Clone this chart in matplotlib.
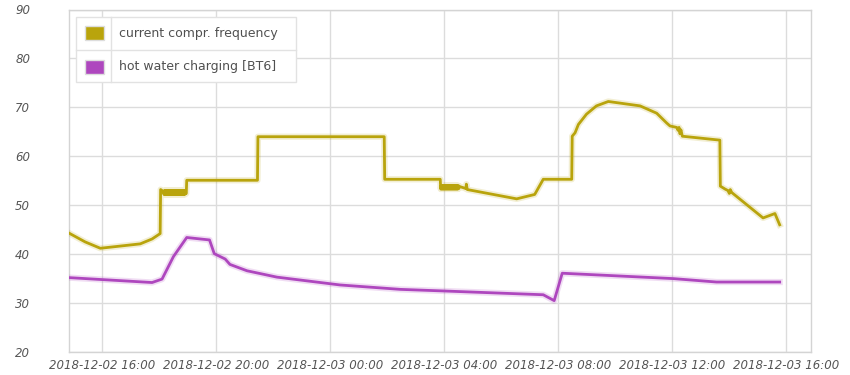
import pandas as pd
import matplotlib
matplotlib.use("Agg")
import matplotlib.pyplot as plt
import matplotlib.dates as mdates
import matplotlib.patheffects as pe
from matplotlib.patches import Rectangle
from matplotlib.lines import Line2D

# ── Data ───────────────────────────────────────────────────────────────────
# compressor frequency, split into pieces; the two "bands" are the fast
# on/off flicker the logger recorded around 18:10-18:56 and 03:54-04:34
COMPR_A_TIMES = [
    "2018-12-02 14:50", "2018-12-02 15:24", "2018-12-02 15:56", "2018-12-02 17:20",
    "2018-12-02 17:45", "2018-12-02 18:02", "2018-12-02 18:03", "2018-12-02 18:09",
]
COMPR_A_VALUES = [44.3, 42.5, 41.2, 42.1, 43.1, 44.2, 53.2, 52.8]

BAND1_TIMES = [
    "2018-12-02 18:10", "2018-12-02 18:11", "2018-12-02 18:12", "2018-12-02 18:13",
    "2018-12-02 18:14", "2018-12-02 18:15", "2018-12-02 18:16", "2018-12-02 18:17",
    "2018-12-02 18:18", "2018-12-02 18:19", "2018-12-02 18:20", "2018-12-02 18:21",
    "2018-12-02 18:22", "2018-12-02 18:23", "2018-12-02 18:24", "2018-12-02 18:25",
    "2018-12-02 18:26", "2018-12-02 18:27", "2018-12-02 18:28", "2018-12-02 18:29",
    "2018-12-02 18:30", "2018-12-02 18:31", "2018-12-02 18:32", "2018-12-02 18:33",
    "2018-12-02 18:34", "2018-12-02 18:35", "2018-12-02 18:36", "2018-12-02 18:37",
    "2018-12-02 18:38", "2018-12-02 18:39", "2018-12-02 18:40", "2018-12-02 18:41",
    "2018-12-02 18:42", "2018-12-02 18:43", "2018-12-02 18:44", "2018-12-02 18:45",
    "2018-12-02 18:46", "2018-12-02 18:47", "2018-12-02 18:48", "2018-12-02 18:49",
    "2018-12-02 18:50", "2018-12-02 18:51", "2018-12-02 18:52", "2018-12-02 18:53",
    "2018-12-02 18:54", "2018-12-02 18:55", "2018-12-02 18:56",
]
BAND1_VALUES = [
    52.2, 53.0, 52.2, 53.0, 52.2, 53.0, 52.2, 53.0,
    52.2, 53.0, 52.2, 53.0, 52.2, 53.0, 52.2, 53.0,
    52.2, 53.0, 52.2, 53.0, 52.2, 53.0, 52.2, 53.0,
    52.2, 53.0, 52.2, 53.0, 52.2, 53.0, 52.2, 53.0,
    52.2, 53.0, 52.2, 53.0, 52.2, 53.0, 52.2, 53.0,
    52.2, 53.0, 52.2, 53.0, 52.2, 53.0, 52.4,
]

COMPR_B_TIMES = [
    "2018-12-02 18:57", "2018-12-02 18:58", "2018-12-02 21:27", "2018-12-02 21:28",
    "2018-12-03 01:54", "2018-12-03 01:55", "2018-12-03 03:52", "2018-12-03 03:53",
]
COMPR_B_VALUES = [52.4, 55.1, 55.1, 64.0, 64.0, 55.3, 55.3, 53.3]

BAND2_TIMES = [
    "2018-12-03 03:54", "2018-12-03 03:55", "2018-12-03 03:56", "2018-12-03 03:57",
    "2018-12-03 03:58", "2018-12-03 03:59", "2018-12-03 04:00", "2018-12-03 04:01",
    "2018-12-03 04:02", "2018-12-03 04:03", "2018-12-03 04:04", "2018-12-03 04:05",
    "2018-12-03 04:06", "2018-12-03 04:07", "2018-12-03 04:08", "2018-12-03 04:09",
    "2018-12-03 04:10", "2018-12-03 04:11", "2018-12-03 04:12", "2018-12-03 04:13",
    "2018-12-03 04:14", "2018-12-03 04:15", "2018-12-03 04:16", "2018-12-03 04:17",
    "2018-12-03 04:18", "2018-12-03 04:19", "2018-12-03 04:20", "2018-12-03 04:21",
    "2018-12-03 04:22", "2018-12-03 04:23", "2018-12-03 04:24", "2018-12-03 04:25",
    "2018-12-03 04:26", "2018-12-03 04:27", "2018-12-03 04:28", "2018-12-03 04:29",
    "2018-12-03 04:30", "2018-12-03 04:31", "2018-12-03 04:32", "2018-12-03 04:33",
]
BAND2_VALUES = [
    54.0, 53.3, 54.0, 53.3, 54.0, 53.3, 54.0, 53.3,
    54.0, 53.3, 54.0, 53.3, 54.0, 53.3, 54.0, 53.3,
    54.0, 53.3, 54.0, 53.3, 54.0, 53.3, 54.0, 53.3,
    54.0, 53.3, 54.0, 53.3, 54.0, 53.3, 54.0, 53.3,
    54.0, 53.3, 54.0, 53.3, 54.0, 53.4, 53.9, 53.8,
]

COMPR_C_TIMES = [
    "2018-12-03 04:40", "2018-12-03 04:46", "2018-12-03 04:47", "2018-12-03 04:49",
    "2018-12-03 06:33", "2018-12-03 07:11", "2018-12-03 07:29", "2018-12-03 08:29",
    "2018-12-03 08:30", "2018-12-03 08:36", "2018-12-03 08:43", "2018-12-03 09:00",
    "2018-12-03 09:21", "2018-12-03 09:46", "2018-12-03 10:53", "2018-12-03 11:28",
    "2018-12-03 11:49", "2018-12-03 11:56", "2018-12-03 12:10", "2018-12-03 12:13",
    "2018-12-03 12:15", "2018-12-03 12:17", "2018-12-03 12:19", "2018-12-03 12:21",
    "2018-12-03 12:22", "2018-12-03 13:41", "2018-12-03 13:42", "2018-12-03 13:52",
    "2018-12-03 13:58", "2018-12-03 14:01", "2018-12-03 14:03", "2018-12-03 14:06",
    "2018-12-03 15:12", "2018-12-03 15:37", "2018-12-03 15:47",
]
COMPR_C_VALUES = [
    53.6, 53.4, 54.3, 53.2,
    51.3, 52.2, 55.3, 55.3,
    64.1, 64.8, 66.5, 68.6,
    70.3, 71.2, 70.3, 68.8,
    66.8, 66.2, 65.9, 65.3,
    65.9, 64.6, 65.4, 64.5,
    64.1, 63.3, 53.9, 53.3,
    53.0, 52.4, 53.2, 52.6,
    47.4, 48.3, 46.0,
]

HW_TIMES = [
    "2018-12-02 14:50", "2018-12-02 17:45", "2018-12-02 18:06", "2018-12-02 18:30",
    "2018-12-02 18:58", "2018-12-02 19:46", "2018-12-02 19:56", "2018-12-02 20:19",
    "2018-12-02 20:29", "2018-12-02 21:05", "2018-12-02 22:08", "2018-12-03 00:21",
    "2018-12-03 02:28", "2018-12-03 03:52", "2018-12-03 07:29", "2018-12-03 07:52",
    "2018-12-03 08:09", "2018-12-03 12:03", "2018-12-03 13:34", "2018-12-03 15:47",
]
HW_VALUES = [
    35.2, 34.2, 34.9, 39.5,
    43.4, 42.9, 40.1, 39.0,
    37.9, 36.6, 35.3, 33.7,
    32.8, 32.5, 31.7, 30.5,
    36.1, 35.0, 34.3, 34.3,
]

SERIES_LABELS = ["current compr. frequency", "hot water charging [BT6]"]
SERIES_COLORS = ["#b9a40c", "#ae47be"]

X_START, X_END = "2018-12-02 14:50", "2018-12-03 16:53"
Y_TICKS = [20, 30, 40, 50, 60, 70, 80, 90]

compr_times = COMPR_A_TIMES + BAND1_TIMES + COMPR_B_TIMES + BAND2_TIMES + COMPR_C_TIMES
compr_values = COMPR_A_VALUES + BAND1_VALUES + COMPR_B_VALUES + BAND2_VALUES + COMPR_C_VALUES

# ── Figure ─────────────────────────────────────────────────────────────────
W, H = 850, 375
fig = plt.figure(figsize=(W / 100, H / 100), dpi=100)
ax = fig.add_axes([69 / W, 1 - 352 / H, (811 - 69) / W, (352 - 9.5) / H])

for times, vals, col in zip([compr_times, HW_TIMES], [compr_values, HW_VALUES], SERIES_COLORS):
    ax.plot(pd.to_datetime(times), vals, color=col, linewidth=2.0,
            solid_joinstyle="round", zorder=3,
            path_effects=[pe.Stroke(linewidth=4.5, foreground=col, alpha=0.18), pe.Normal()])

ax.set_xlim(pd.Timestamp(X_START), pd.Timestamp(X_END))
ax.set_ylim(20, 90)
ax.set_yticks(Y_TICKS)
ax.xaxis.set_major_locator(mdates.HourLocator(byhour=[0, 4, 8, 12, 16, 20]))
ax.xaxis.set_major_formatter(mdates.DateFormatter("%Y-%m-%d %H:%M"))

ax.grid(True, color="#dcdcdc", linewidth=1.0, zorder=0)
ax.set_axisbelow(True)
for s in ax.spines.values():
    s.set_color("#d4d4d4")
    s.set_linewidth(1.0)
ax.tick_params(length=0, labelcolor="#555555", labelsize=8.5)
ax.tick_params(axis="y", pad=28)
ax.tick_params(axis="x", pad=5)
for lab in ax.get_xticklabels() + ax.get_yticklabels():
    lab.set_fontstyle("italic")

# ── Legend (table-like box, drawn in pixel coords) ─────────────────────────
def fx(px):
    return px / W

def fy(py):
    return 1 - py / H

fig.add_artist(Rectangle((fx(76), fy(82)), fx(296) - fx(76), fy(16.7) - fy(82),
                         transform=fig.transFigure, facecolor="white",
                         edgecolor="#e2e2e2", linewidth=1.0, zorder=5))
fig.add_artist(Line2D([fx(111.5), fx(111.5)], [fy(16.7), fy(82)], transform=fig.transFigure,
                      color="#e2e2e2", linewidth=1.0, zorder=6))
fig.add_artist(Line2D([fx(76), fx(296)], [fy(49.7), fy(49.7)], transform=fig.transFigure,
                      color="#e2e2e2", linewidth=1.0, zorder=6))
for i, (label, col) in enumerate(zip(SERIES_LABELS, SERIES_COLORS)):
    yc = 33.3 + i * 33.5
    fig.add_artist(Rectangle((fx(85), fy(yc + 7)), fx(104) - fx(85), fy(yc - 7) - fy(yc + 7),
                             transform=fig.transFigure, facecolor=col,
                             edgecolor="#dddddd", linewidth=1.0, zorder=7))
    fig.text(fx(119), fy(yc), label, color="#505050", fontsize=9,
             va="center", ha="left", zorder=8)

plt.savefig("out.png", dpi=100)
plt.close()
